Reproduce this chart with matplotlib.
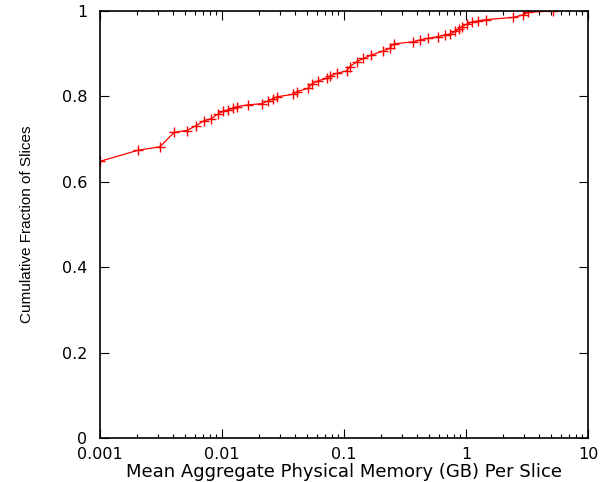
import matplotlib
matplotlib.use("Agg")
import matplotlib.pyplot as plt
from matplotlib.ticker import LogLocator, FixedLocator, NullFormatter

# Mean aggregate physical memory per slice (GB) and cumulative fraction
memory_gb = [0.001, 0.00206, 0.0031, 0.00406, 0.00514, 0.0061, 0.0071, 0.0082,
             0.0093, 0.0102, 0.0113, 0.0122, 0.0132, 0.0162, 0.0211, 0.0240,
             0.0263, 0.0281, 0.0384, 0.041, 0.0509, 0.0543, 0.0617, 0.0722,
             0.0768, 0.0881, 0.105, 0.112, 0.127, 0.144, 0.168, 0.207, 0.237,
             0.256, 0.369, 0.418, 0.49, 0.59, 0.67, 0.74, 0.81, 0.87, 0.92,
             1.01, 1.11, 1.26, 1.47, 2.45, 2.95, 3.24, 5.2]
cum_fraction = [0.648, 0.674, 0.682, 0.716, 0.720, 0.731, 0.743, 0.748,
                0.759, 0.765, 0.769, 0.772, 0.776, 0.780, 0.783, 0.790,
                0.795, 0.799, 0.805, 0.811, 0.819, 0.829, 0.837, 0.842,
                0.848, 0.854, 0.860, 0.870, 0.881, 0.889, 0.897, 0.906, 0.913,
                0.923, 0.928, 0.932, 0.936, 0.940, 0.944, 0.946, 0.952, 0.958, 0.963,
                0.969, 0.974, 0.977, 0.980, 0.985, 0.991, 0.997, 1.0]

x_ticks = [0.001, 0.01, 0.1, 1, 10]
x_tick_labels = ["0.001", "0.01", "0.1", "1", "10"]
y_ticks = [0, 0.2, 0.4, 0.6, 0.8, 1]
y_tick_labels = ["0", "0.2", "0.4", "0.6", "0.8", "1"]

fig = plt.figure(figsize=(6.08, 4.82), dpi=100)
ax = fig.add_axes([100 / 608, 1 - 438 / 482, 488 / 608, 427 / 482])

ax.plot(memory_gb, cum_fraction, color="#ff0000", linewidth=0.9,
        marker="+", markersize=7, markeredgewidth=1.0)

ax.set_xscale("log")
ax.set_xlim(0.001, 10)
ax.set_ylim(0, 1)

ax.xaxis.set_major_locator(FixedLocator(x_ticks))
ax.set_xticklabels(x_tick_labels)
ax.xaxis.set_minor_locator(LogLocator(base=10, subs=range(2, 10)))
ax.xaxis.set_minor_formatter(NullFormatter())
ax.set_yticks(y_ticks)
ax.set_yticklabels(y_tick_labels)

ax.tick_params(which="both", direction="in", top=True, right=True, width=0.8)
ax.tick_params(which="major", length=6.5)
ax.tick_params(which="minor", length=3)
ax.tick_params(axis="both", labelsize=11.5)
ax.tick_params(axis="x", pad=6.5)
ax.tick_params(axis="y", pad=9)
for lbl in ax.get_xticklabels() + ax.get_yticklabels():
    lbl.set_fontfamily("DejaVu Sans")

for sp in ax.spines.values():
    sp.set_linewidth(1.2)

ax.set_xlabel("Mean Aggregate Physical Memory (GB) Per Slice",
              fontsize=13, family="DejaVu Sans", labelpad=0.5)
ax.set_ylabel("Cumulative Fraction of Slices", fontsize=11,
              family="Liberation Sans", labelpad=20)

fig.savefig("out.png", dpi=100)
